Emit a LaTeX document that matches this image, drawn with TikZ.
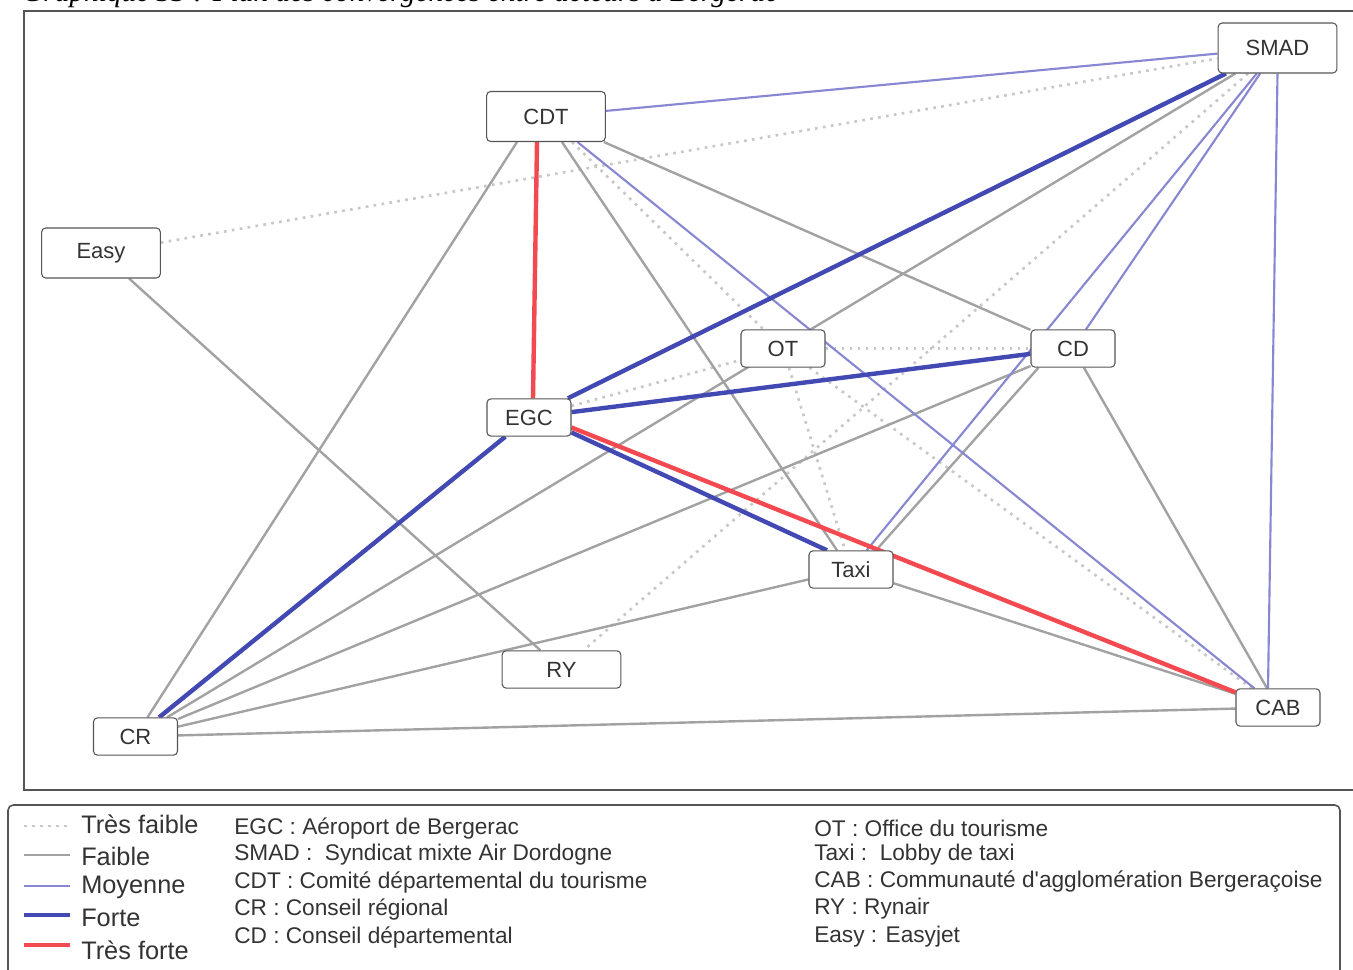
\documentclass[tikz,border=0pt]{standalone}
\usepackage{fontspec}
\setmainfont{Liberation Sans}
\newfontfamily\aposfont{Liberation Sans}
\newfontfamily\capfont{Liberation Serif}
\usetikzlibrary{calc,backgrounds}
\definecolor{cfaible}{HTML}{A2A2A2}
\definecolor{ctf}{HTML}{C8C8C8}
\definecolor{cmoy}{HTML}{8888D2}
\definecolor{cforte}{HTML}{4349B2}
\definecolor{ctforte}{HTML}{F24A50}
\definecolor{ctext}{HTML}{333333}
\definecolor{cbox}{HTML}{555555}
\begin{document}
\begin{tikzpicture}[x=0.75pt,y=-0.75pt,
  actor/.style={draw=cbox,line width=0.8pt,rounded corners=3pt,fill=white,text=ctext,font=\fontsize{16.5}{18}\selectfont,inner sep=0pt},
  big/.style={actor,minimum width=89pt,minimum height=37.5pt},
  small/.style={actor,minimum width=63pt,minimum height=28pt},
  tf/.style={ctf,line width=2pt,dash pattern=on 2pt off 4pt},
  fa/.style={cfaible,line width=1.8pt},
  mo/.style={cmoy,line width=1.6pt},
  fo/.style={cforte,line width=3.3pt},
  tfo/.style={ctforte,line width=3.3pt},
  legtext/.style={text=ctext,anchor=west,inner sep=0pt},
  legbig/.style={legtext,font=\fontsize{19}{21}\selectfont},
  legabbr/.style={legtext,font=\fontsize{17}{19}\selectfont},
]
\useasboundingbox (0,0) rectangle (1353,970);
% caption (clipped at top, as in the reference)
\node[anchor=base west,inner sep=0pt,font=\capfont\itshape\fontsize{22}{24}\selectfont] (cap) at (22,2) {Graphique 33 : Plan des convergences entre acteurs à Bergerac};
% frame
\draw[cbox,line width=1.5pt] (24,11) rectangle (1370,790);
% actors
\node[big] (SMAD) at (1277.5,48) {SMAD};
\node[big] (CDT) at (546,116.5) {CDT};
\node[big] (Easy) at (101,253) {Easy};
\node[small] (OT) at (783,348.5) {OT};
\node[small] (CD) at (1073,348.5) {CD};
\node[small] (EGC) at (529,417.5) {EGC};
\node[small] (Taxi) at (851,569.5) {Taxi};
\node[small,minimum width=89pt] (RY) at (561.5,669.5) {RY};
\node[small] (CR) at (135.5,736.5) {CR};
\node[small] (CAB) at (1278,707.5) {CAB};
\begin{scope}[on background layer]
 % tres faible
 \draw[tf] (Easy) -- (SMAD);
 \draw[tf] (SMAD) -- (RY);
 \draw[tf] (CDT) -- (OT);
 \draw[tf] (OT) -- (CD);
 \draw[tf] (OT) -- (Taxi);
 \draw[tf] (OT) -- (CAB);
 \draw[tf] (EGC) -- (OT);
 % faible
 \draw[fa] (Easy) -- (RY);
 \draw[fa] ($(CDT.south)+(-29,0)$) -- ($(CR.north)+(12,0)$);
 \draw[fa] ($(CDT.south)+(16,0)$) -- ($(Taxi.north)+(-14,0)$);
 \draw[fa] (CDT) -- (CD);
 \draw[fa] (SMAD) -- (CR);
 \draw[fa] (CR) -- (CD);
 \draw[fa] (CR) -- (Taxi);
 \draw[fa] (CR) -- (CAB);
 \draw[fa] ($(CD.south west)+(8,0)$) -- ($(Taxi.north)+(25,0)$);
 \draw[fa] (CD) -- (CAB);
 \draw[fa] (Taxi) -- (CAB);
 % moyenne
 \draw[mo] (CDT) -- (SMAD);
 \draw[mo] (CDT) -- (CAB);
 \draw[mo] (SMAD) -- (CD);
 \draw[mo] (SMAD) -- (Taxi);
 \draw[mo] (SMAD.south) -- ($(CAB.north)+(-10,0)$);
 % forte
 \draw[fo] (EGC) -- (SMAD);
 \draw[fo] (EGC) -- (CD);
 \draw[fo] (EGC) -- (CR);
 \draw[fo] ($(EGC.east)+(0,15)$) -- ($(Taxi.north)+(-24,0)$);
 % tres forte
 \draw[tfo] ($(CDT.south)+(-9,0)$) -- ($(EGC.north)+(4,0)$);
 \draw[tfo] ($(EGC.east)+(0,10)$) -- ($(CAB.north west)+(0,4)$);
\end{scope}
% legend
\draw[cbox,line width=1.2pt,rounded corners=4pt] (8,805) rectangle (1340,995);
\coordinate (s1a) at (24,826); \coordinate (s1b) at (70,826);
\coordinate (s2a) at (24,855); \coordinate (s2b) at (70,855);
\coordinate (s3a) at (24,886); \coordinate (s3b) at (70,886);
\coordinate (s4a) at (24,915); \coordinate (s4b) at (70,915);
\coordinate (s5a) at (24,945); \coordinate (s5b) at (70,945);
\draw[tf] (s1a) -- (s1b);
\draw[fa] (s2a) -- (s2b);
\draw[mo] (s3a) -- (s3b);
\draw[fo] (s4a) -- (s4b);
\draw[tfo] (s5a) -- (s5b);
\node[legbig] (l1) at (81,824) {Très faible};
\node[legbig] (l2) at (81,856) {Faible};
\node[legbig] (l3) at (81,887) {Moyenne};
\node[legbig] (l4) at (81,918) {Forte};
\node[legbig] (l5) at (81,950) {Très forte};
\node[legabbr] (a1) at (234,828) {EGC : Aéroport de Bergerac};
\node[legabbr] (a2) at (234,855) {SMAD :\ \ Syndicat mixte Air Dordogne};
\node[legabbr] (a3) at (234,882) {CDT : Comité départemental du tourisme};
\node[legabbr] (a4) at (234,909) {CR : Conseil régional};
\node[legabbr] (a5) at (234,937) {CD : Conseil départemental};
\node[legabbr] (b1) at (814,828) {OT : Office du tourisme};
\node[legabbr] (b2) at (814,855) {Taxi :\ \ Lobby de taxi};
\node[legabbr] (b3) at (814,882) {CAB : Communauté d{\aposfont'}agglomération Bergeraçoise};
\node[legabbr] (b4) at (814,909) {RY : Rynair};
\node[legabbr] (b5) at (814,937) {Easy : Easyjet};
\end{tikzpicture}
\end{document}
